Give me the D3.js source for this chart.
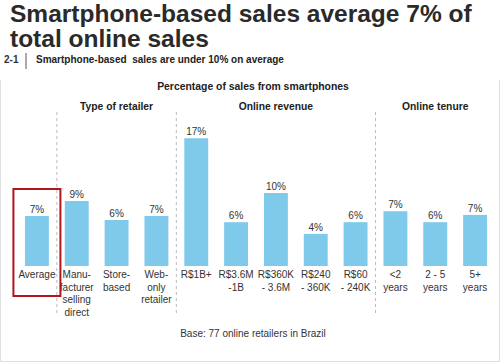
<!DOCTYPE html>
<html>
<head>
<meta charset="utf-8">
<script src="https://cdn.jsdelivr.net/npm/d3@7"></script>
<style>
  body { margin: 0; background: #fff; }
  svg { display: block; font-family: "Liberation Sans", Arial, sans-serif; }
</style>
</head>
<body>
<div id="chart"></div>
<script>
// categories, with their label lines
var categories = ["Average", "Manufacturer", "Store", "Web", "R$1B+", "R$3.6M-1B", "R$360K-3.6M", "R$240-360K", "R$60-240K", "<2", "2-5", "5+"];
var catLines = [
  ["Average"],
  ["Manu-", "facturer", "selling", "direct"],
  ["Store-", "based"],
  ["Web-", "only", "retailer"],
  ["R$1B+"],
  ["R$3.6M", "-1B"],
  ["R$360K", "- 3.6M"],
  ["R$240", "- 360K"],
  ["R$60", "- 240K"],
  ["<2", "years"],
  ["2 - 5", "years"],
  ["5+", "years"]
];
// bar heights (% of sales) and printed labels
var values = [6.85, 8.9, 6.3, 6.85, 17.5, 6.0, 10.0, 4.4, 6.0, 7.5, 6.0, 7.0];
var valueLabels = ["7%", "9%", "6%", "7%", "17%", "6%", "10%", "4%", "6%", "7%", "6%", "7%"];
// groups: name, first and last category index
var groups = [
  {name: "Type of retailer", from: 1, to: 3},
  {name: "Online revenue", from: 4, to: 8},
  {name: "Online tenure", from: 9, to: 11}
];

var width = 500, height = 362;
var baseY = 266;

var svg = d3.select("#chart").append("svg")
  .attr("width", width).attr("height", height);

var x = d3.scaleBand().domain(categories).range([17, 495])
  .paddingInner(0.4).paddingOuter(0.2);
var y = d3.scaleLinear().domain([0, 20]).range([baseY, baseY - 146]);

// light frame
svg.append("path")
  .attr("d", "M0.5,80V361.5H499.5V80")
  .attr("fill", "none").attr("stroke", "#dde0e0").attr("stroke-width", 1);

// title
var title = svg.append("text")
  .attr("font-size", 24.5).attr("font-weight", "bold").attr("fill", "#2a2a2a");
title.append("tspan").attr("x", 10).attr("y", 22).text("Smartphone-based sales average 7% of");
title.append("tspan").attr("x", 10).attr("y", 47).text("total online sales");

// subtitle
svg.append("text").attr("x", 4).attr("y", 63)
  .attr("font-size", 10).attr("font-weight", "bold").attr("fill", "#333").text("2-1");
svg.append("line").attr("x1", 26).attr("x2", 26).attr("y1", 53).attr("y2", 69)
  .attr("stroke", "#555").attr("stroke-width", 1);
svg.append("text").attr("x", 36).attr("y", 63)
  .attr("font-size", 10).attr("font-weight", "bold").attr("fill", "#222")
  .attr("xml:space", "preserve")
  .text("Smartphone-based  sales are under 10% on average");

// chart heading
svg.append("text").attr("x", 253).attr("y", 90).attr("text-anchor", "middle")
  .attr("font-size", 10.4).attr("font-weight", "bold").attr("fill", "#222")
  .text("Percentage of sales from smartphones");

// group headers
svg.selectAll(".grp").data(groups).enter().append("text")
  .attr("class", "grp")
  .attr("x", function (g) {
    return (x(categories[g.from]) + x(categories[g.to]) + x.bandwidth()) / 2;
  })
  .attr("y", 110).attr("text-anchor", "middle")
  .attr("font-size", 10.3).attr("font-weight", "bold").attr("fill", "#222")
  .text(function (g) { return g.name; });

// dashed separators between groups
var seps = [0].concat(groups.slice(0, -1).map(function (g) { return g.to; }));
svg.selectAll(".sep").data(seps).enter().append("line")
  .attr("class", "sep")
  .attr("x1", function (i) { return (x(categories[i]) + x(categories[i + 1]) + x.bandwidth()) / 2; })
  .attr("x2", function (i) { return (x(categories[i]) + x(categories[i + 1]) + x.bandwidth()) / 2; })
  .attr("y1", 112).attr("y2", 316)
  .attr("stroke", "#bbb").attr("stroke-width", 1).attr("stroke-dasharray", "3,3");

// bars
svg.selectAll(".bar").data(values).enter().append("rect")
  .attr("class", "bar")
  .attr("x", function (d, i) { return x(categories[i]); })
  .attr("y", function (d) { return y(d); })
  .attr("width", x.bandwidth())
  .attr("height", function (d) { return baseY - y(d); })
  .attr("fill", "#7fc9ea");

// value labels
svg.selectAll(".val").data(values).enter().append("text")
  .attr("class", "val")
  .attr("x", function (d, i) { return x(categories[i]) + x.bandwidth() / 2; })
  .attr("y", function (d) { return y(d) - 3; })
  .attr("text-anchor", "middle").attr("font-size", 10).attr("fill", "#333")
  .text(function (d, i) { return valueLabels[i]; });

// category labels
var cat = svg.selectAll(".cat").data(catLines).enter().append("text")
  .attr("class", "cat")
  .attr("text-anchor", "middle").attr("font-size", 10).attr("fill", "#333");
cat.selectAll("tspan").data(function (lines, i) {
    return lines.map(function (l) { return {t: l, i: i}; });
  }).enter().append("tspan")
  .attr("x", function (d) { return x(categories[d.i]) + x.bandwidth() / 2; })
  .attr("y", function (d, j) { return 278 + j * 12.5; })
  .text(function (d) { return d.t; });

// highlight box around average
var avgX = x(categories[0]) + x.bandwidth() / 2;
svg.append("rect")
  .attr("x", avgX - 23.5).attr("y", 189)
  .attr("width", 47).attr("height", 107)
  .attr("fill", "none").attr("stroke", "#b0161e").attr("stroke-width", 2);

// footnote
svg.append("text").attr("x", 253).attr("y", 337).attr("text-anchor", "middle")
  .attr("font-size", 10).attr("fill", "#333")
  .text("Base: 77 online retailers in Brazil");
</script>
</body>
</html>
